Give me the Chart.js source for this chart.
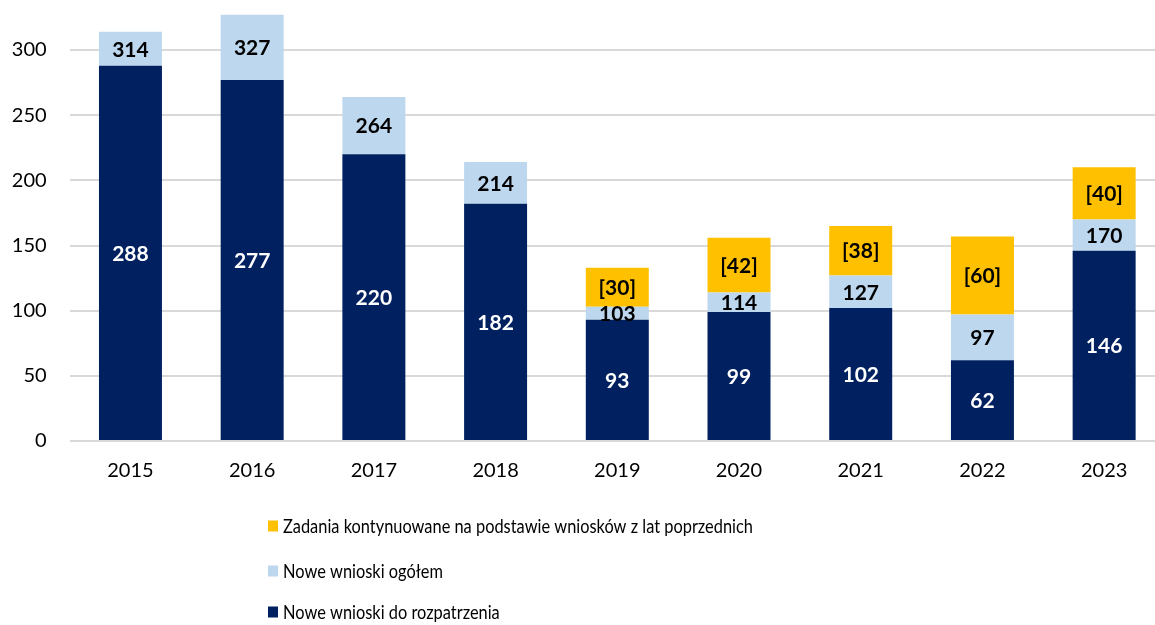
<!DOCTYPE html>
<html>
<head>
<meta charset="utf-8">
<script src="https://cdn.jsdelivr.net/npm/chart.js@4/dist/chart.umd.min.js"></script>
<style>
  html, body { margin: 0; padding: 0; background: #ffffff; overflow: hidden; }
  #wrap { position: absolute; left: 0; top: 0; width: 1170px; height: 625px; }
</style>
</head>
<body>
<div id="wrap"><canvas id="c"></canvas></div>
<script>
const years = ['2015','2016','2017','2018','2019','2020','2021','2022','2023'];
const doRozpatrzenia = [288, 277, 220, 182, 93, 99, 102, 62, 146];
const ogolem = [314, 327, 264, 214, 103, 114, 127, 97, 170];
const kontynuowane = [null, null, null, null, 30, 42, 38, 60, 40];
const yTicks = [0, 50, 100, 150, 200, 250, 300];

const seriesNames = [
  'Nowe wnioski do rozpatrzenia',
  'Nowe wnioski ogółem',
  'Zadania kontynuowane na podstawie wniosków z lat poprzednich'
];
const colors = ['#002060', '#BDD7EE', '#FFC000'];

const FONT = 'Lato, "Open Sans", sans-serif';

const lightSegment = ogolem.map((t, i) => t - doRozpatrzenia[i]);
const labelTexts = [
  doRozpatrzenia.map(v => String(v)),
  ogolem.map(v => String(v)),
  kontynuowane.map(v => v == null ? '' : '[' + v + ']')
];
const labelColors = ['#ffffff', '#000000', '#000000'];

const valueLabels = {
  id: 'valueLabels',
  afterDatasetsDraw(chart) {
    const ctx = chart.ctx;
    ctx.save();
    ctx.font = 'bold 21px ' + FONT;
    ctx.textAlign = 'center';
    ctx.textBaseline = 'middle';
    chart.data.datasets.forEach((ds, di) => {
      const meta = chart.getDatasetMeta(di);
      meta.data.forEach((el, i) => {
        const txt = labelTexts[di][i];
        if (!txt) return;
        const p = el.getProps(['x', 'y', 'base'], true);
        ctx.fillStyle = labelColors[di];
        ctx.fillText(txt, p.x, (p.y + p.base) / 2 + 1);
      });
    });
    ctx.restore();
  }
};

const customLegend = {
  id: 'customLegend',
  afterDraw(chart) {
    const ctx = chart.ctx;
    const order = [2, 1, 0];
    const ys = [526, 571, 612];
    order.forEach((di, k) => {
      const ds = chart.data.datasets[di];
      ctx.save();
      ctx.fillStyle = ds.backgroundColor;
      ctx.fillRect(268, ys[k] - 5.5, 10, 11);
      ctx.translate(283, ys[k] + 1);
      ctx.scale(0.84, 1);
      ctx.font = '19.5px ' + FONT;
      ctx.textAlign = 'left';
      ctx.textBaseline = 'middle';
      ctx.fillStyle = '#000000';
      ctx.fillText(ds.label, 0, 0);
      ctx.restore();
    });
  }
};

new Chart(document.getElementById('c'), {
  type: 'bar',
  data: {
    labels: years,
    datasets: [
      { label: seriesNames[0], data: doRozpatrzenia, backgroundColor: colors[0] },
      { label: seriesNames[1], data: lightSegment, backgroundColor: colors[1] },
      { label: seriesNames[2], data: kontynuowane, backgroundColor: colors[2] }
    ]
  },
  options: {
    responsive: true,
    maintainAspectRatio: false,
    animation: false,
    layout: { padding: { left: 0, top: 0, right: 5, bottom: 0 } },
    datasets: { bar: { categoryPercentage: 1.0, barPercentage: 0.5175, borderWidth: 0 } },
    plugins: {
      legend: { display: false },
      tooltip: { enabled: false }
    },
    scales: {
      x: {
        stacked: true,
        grid: { display: false, drawTicks: false },
        border: { display: false },
        ticks: { color: '#000000', font: { family: FONT, size: 20 }, padding: 18, maxRotation: 0 },
        afterFit(scale) {
          scale.height = 184;
          scale.paddingLeft = 0; scale.paddingRight = 0;
        }
      },
      y: {
        stacked: true,
        min: 0,
        max: 338.4,
        grid: { color: '#d9d9d9', lineWidth: 2, drawTicks: false },
        border: { display: false },
        ticks: { color: '#000000', font: { family: FONT, size: 20 }, padding: 23, stepSize: 50 },
        afterBuildTicks(scale) {
          scale.ticks = yTicks.map(v => ({ value: v }));
        },
        afterFit(scale) {
          scale.width = 69.6;
          scale.paddingTop = 0; scale.paddingBottom = 0;
        }
      }
    }
  },
  plugins: [valueLabels, customLegend]
});
</script>
</body>
</html>
